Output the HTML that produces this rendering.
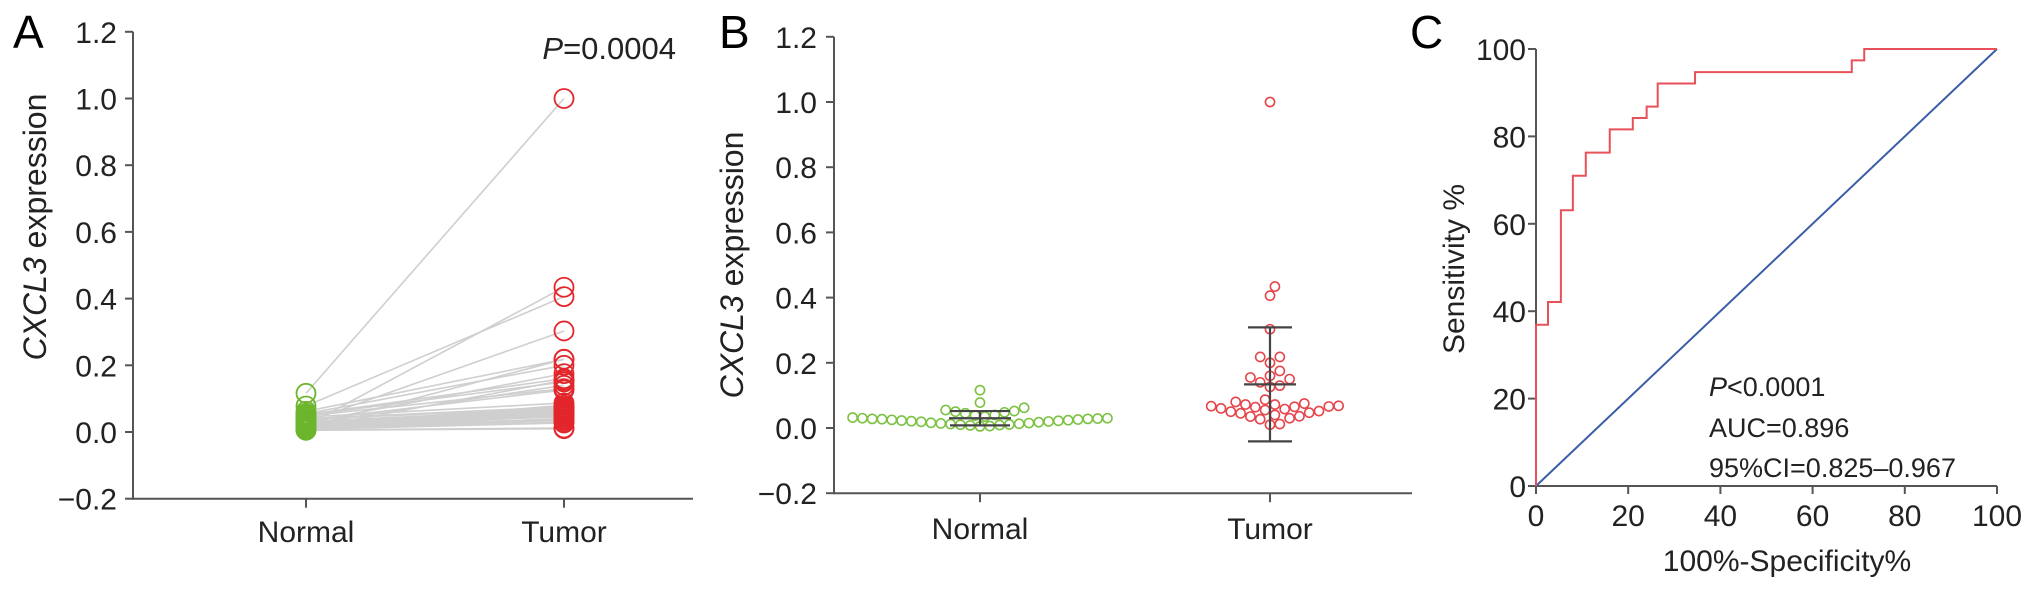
<!DOCTYPE html>
<html><head><meta charset="utf-8"><style>
html,body{margin:0;padding:0;background:#fff;}
svg{display:block;font-family:"Liberation Sans",Arial,sans-serif;}
</style></head><body>
<svg id="fig" width="2032" height="594" viewBox="0 0 2032 594" xmlns="http://www.w3.org/2000/svg"></svg>
<script>
// ---- data ----
const categories = ["Normal", "Tumor"];
const normalValues = [0.116,0.020,0.078,0.030,0.062,0.015,0.055,0.028,0.052,0.010,0.050,0.024,0.048,0.035,0.045,0.018,0.040,0.026,0.038,0.012,0.032,0.029,0.030,0.021,0.028,0.019,0.027,0.016,0.025,0.014,0.023,0.013,0.022,0.011,0.009,0.008,0.006,0.005];
const tumorValues = [1.000,0.434,0.406,0.303,0.218,0.218,0.200,0.175,0.160,0.155,0.150,0.140,0.130,0.126,0.087,0.080,0.075,0.072,0.072,0.068,0.067,0.066,0.065,0.064,0.060,0.058,0.055,0.052,0.050,0.047,0.045,0.040,0.036,0.035,0.030,0.027,0.012,0.010];
const yTicks = [1.2,1.0,0.8,0.6,0.4,0.2,0.0,-0.2];
const yTickLabels = ["1.2","1.0","0.8","0.6","0.4","0.2","0.0","\u22120.2"];
const rocX = [0,0,2.6,2.6,5.4,5.4,8.0,8.0,10.8,10.8,16.0,16.0,21.0,21.0,24.0,24.0,26.4,26.4,34.5,34.5,68.5,68.5,71.2,71.2,100];
const rocY = [0,36.9,36.9,42.1,42.1,63.1,63.1,71.0,71.0,76.3,76.3,81.6,81.6,84.2,84.2,86.8,86.8,92.1,92.1,94.7,94.7,97.4,97.4,100,100];
const rocTicks = [0,20,40,60,80,100];

const NS = "http://www.w3.org/2000/svg";
const svg = document.getElementById("fig");
function el(tag, attrs, parent){
  const e = document.createElementNS(NS, tag);
  for (const k in attrs) e.setAttribute(k, attrs[k]);
  (parent||svg).appendChild(e);
  return e;
}
const AX = "#555";

// ---------- Panel A ----------
const A = {x0:133, xEnd:693, y0:432, k:333.5, cx:[306,564]};
const yA = v => A.y0 - A.k*v;
const gA = el("g",{});


let t = el("text",{x:13,y:48,"font-size":46},gA); t.textContent="A";
 
// axes
let l = el("line",{x1:A.x0,y1:yA(1.2),x2:A.x0,y2:yA(-0.2)+1,stroke:AX,"stroke-width":2},gA);
 
l = el("line",{x1:A.x0,y1:yA(-0.2),x2:A.xEnd,y2:yA(-0.2),stroke:AX,"stroke-width":2},gA);
 
yTicks.forEach((v,i)=>{
  const y=yA(v);
  el("line",{x1:A.x0-8,y1:y,x2:A.x0,y2:y,stroke:AX,"stroke-width":2},gA);
  const tx=el("text",{x:117,y:y+11,"font-size":30,"text-anchor":"end",fill:"#222"},gA);
  tx.textContent=yTickLabels[i];
   
});
categories.forEach((c,i)=>{
  el("line",{x1:A.cx[i],y1:yA(-0.2),x2:A.cx[i],y2:yA(-0.2)+9,stroke:AX,"stroke-width":2},gA);
  const tx=el("text",{x:A.cx[i],y:542,"font-size":30,"text-anchor":"middle",fill:"#222"},gA);
  tx.textContent=c;
   
});
t = el("text",{transform:"translate(46,227) rotate(-90)","font-size":32,"text-anchor":"middle",fill:"#222"},gA);
t.innerHTML='<tspan font-style="italic">CXCL3</tspan> expression';
 
t = el("text",{x:676,y:59,"font-size":31,"text-anchor":"end",fill:"#222"},gA);
t.innerHTML='<tspan font-style="italic">P</tspan>=0.0004';
 
// paired lines
normalValues.forEach((v,i)=>{
  const ln=el("line",{x1:A.cx[0],y1:yA(v),x2:A.cx[1],y2:yA(tumorValues[i]),stroke:"#cfcfcf","stroke-width":1.6},gA);
   
});
normalValues.forEach(v=>{
  const c=el("circle",{cx:A.cx[0],cy:yA(v),r:9.5,fill:"none",stroke:"#6cb52d","stroke-width":1.8},gA);
   
});
tumorValues.forEach(v=>{
  const c=el("circle",{cx:A.cx[1],cy:yA(v),r:9.5,fill:"none",stroke:"#e3262b","stroke-width":1.8},gA);
   
});

// ---------- Panel B ----------
const B = {x0:834, xEnd:1412, y0:428, k:326, cx:[980,1270]};
const yB = v => B.y0 - B.k*v;
const gB = el("g",{});


t = el("text",{x:719,y:48,"font-size":46},gB); t.textContent="B";
 
l = el("line",{x1:B.x0,y1:yB(1.2),x2:B.x0,y2:yB(-0.2)+1,stroke:AX,"stroke-width":2},gB);
 
l = el("line",{x1:B.x0,y1:yB(-0.2),x2:B.xEnd,y2:yB(-0.2),stroke:AX,"stroke-width":2},gB);
 
yTicks.forEach((v,i)=>{
  const y=yB(v);
  el("line",{x1:B.x0-8,y1:y,x2:B.x0,y2:y,stroke:AX,"stroke-width":2},gB);
  const tx=el("text",{x:817,y:y+11,"font-size":30,"text-anchor":"end",fill:"#222"},gB);
  tx.textContent=yTickLabels[i];
   
});
categories.forEach((c,i)=>{
  el("line",{x1:B.cx[i],y1:yB(-0.2),x2:B.cx[i],y2:yB(-0.2)+9,stroke:AX,"stroke-width":2},gB);
  const tx=el("text",{x:B.cx[i],y:539,"font-size":30,"text-anchor":"middle",fill:"#222"},gB);
  tx.textContent=c;
   
});
t = el("text",{transform:"translate(743,265) rotate(-90)","font-size":32,"text-anchor":"middle",fill:"#222"},gB);
t.innerHTML='<tspan font-style="italic">CXCL3</tspan> expression';
 

function swarm(vals, cx, yf){
  const r=4.6, d=2*r+0.6, placed=[], out=[];
  [...vals].sort((a,b)=>a-b).forEach(v=>{
    const y=yf(v);
    for(let k=0;k<80;k++){
      const off = k===0?0:(k%2? Math.ceil(k/2):-Math.ceil(k/2))*d*0.5;
      const x=cx+off;
      if(placed.every(p=>Math.hypot(p[0]-x,p[1]-y)>=d)){placed.push([x,y]);out.push([x,y]);break;}
    }
  });
  return out;
}
function stats(a){const m=a.reduce((s,v)=>s+v,0)/a.length;const sd=Math.sqrt(a.reduce((s,v)=>s+(v-m)*(v-m),0)/(a.length-1));return [m,sd];}
[[normalValues,"#7cc242",0,31,30],[tumorValues,"#e5454b",1,26,22]].forEach(([vals,col,i,mw,cw])=>{
  swarm(vals,B.cx[i],yB).forEach(p=>{
    const c=el("circle",{cx:p[0],cy:p[1],r:4.6,fill:"none",stroke:col,"stroke-width":1.6},gB);
     
  });
  const [m,sd]=stats(vals), cx=B.cx[i];
  const eb=el("g",{stroke:"#444","stroke-width":2.2},gB);
  
  
  el("line",{x1:cx,y1:yB(m+sd),x2:cx,y2:yB(m-sd)},eb);
  el("line",{x1:cx-mw,y1:yB(m),x2:cx+mw,y2:yB(m)},eb);
  el("line",{x1:cx-cw,y1:yB(m+sd),x2:cx+cw,y2:yB(m+sd)},eb);
  el("line",{x1:cx-cw,y1:yB(m-sd),x2:cx+cw,y2:yB(m-sd)},eb);
});

// ---------- Panel C ----------
const C = {x0:1536, x1:1997, y0:486, y1:49};
const xC = v => C.x0 + (C.x1-C.x0)*v/100;
const yC = v => C.y0 - (C.y0-C.y1)*v/100;
const gC = el("g",{});


t = el("text",{x:1410,y:48,"font-size":46},gC); t.textContent="C";
 
l = el("line",{x1:C.x0,y1:C.y1,x2:C.x0,y2:C.y0+1,stroke:AX,"stroke-width":2},gC);
 
l = el("line",{x1:C.x0-1,y1:C.y0,x2:C.x1,y2:C.y0,stroke:AX,"stroke-width":2},gC);
 
rocTicks.forEach(v=>{
  el("line",{x1:C.x0-8,y1:yC(v),x2:C.x0,y2:yC(v),stroke:AX,"stroke-width":2},gC);
  let tx=el("text",{x:1526,y:yC(v)+11,"font-size":30,"text-anchor":"end",fill:"#222"},gC);
  tx.textContent=v;
   
  el("line",{x1:xC(v),y1:C.y0,x2:xC(v),y2:C.y0+8,stroke:AX,"stroke-width":2},gC);
  tx=el("text",{x:xC(v),y:526,"font-size":30,"text-anchor":"middle",fill:"#222"},gC);
  tx.textContent=v;
   
});
t = el("text",{transform:"translate(1464,269) rotate(-90)","font-size":30,"text-anchor":"middle",fill:"#222"},gC);
t.textContent="Sensitivity %";
 
t = el("text",{x:1787,y:571,"font-size":30,"text-anchor":"middle",fill:"#222"},gC);
t.textContent="100%-Specificity%";
 
l = el("line",{x1:xC(0),y1:yC(0),x2:xC(100),y2:yC(100),stroke:"#3b5ea8","stroke-width":2},gC);
 
const pts = rocX.map((x,i)=>xC(x)+","+yC(rocY[i])).join(" ");
const roc = el("polyline",{points:pts,fill:"none",stroke:"#e8505a","stroke-width":2},gC);
 
t = el("text",{x:1709,y:396,"font-size":27,fill:"#222"},gC);
t.innerHTML='<tspan font-style="italic">P</tspan>&lt;0.0001';
 
t = el("text",{x:1709,y:437,"font-size":27,fill:"#222"},gC); t.textContent="AUC=0.896";
 
t = el("text",{x:1709,y:477,"font-size":27,fill:"#222"},gC); t.textContent="95%CI=0.825\u20130.967";
 
</script>
</body></html>
